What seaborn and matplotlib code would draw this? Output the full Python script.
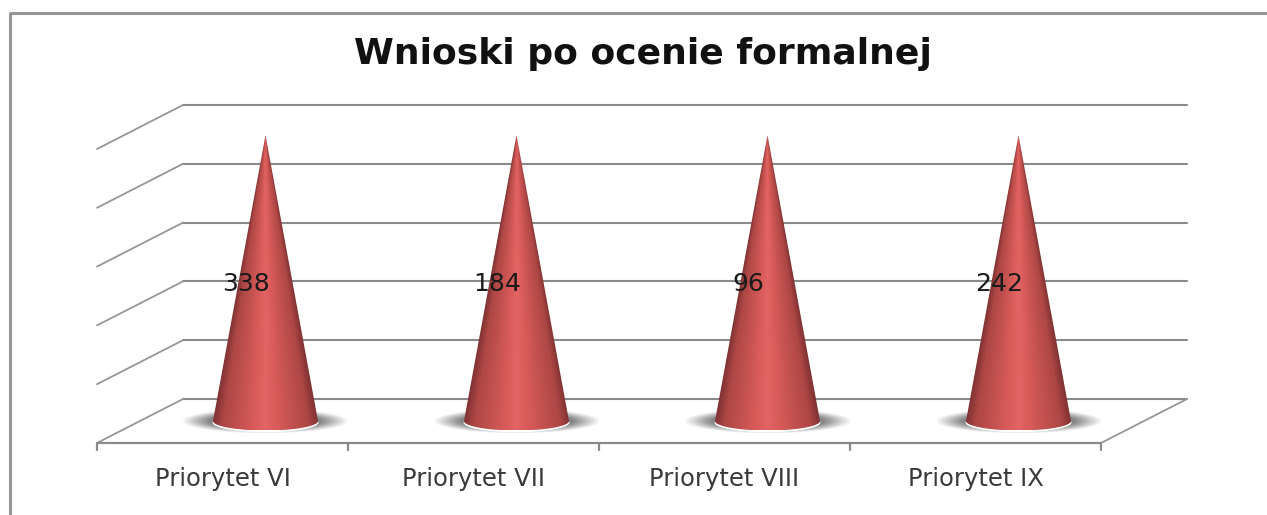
import numpy as np
import matplotlib
matplotlib.use('Agg')
import matplotlib.pyplot as plt
from matplotlib.colors import LinearSegmentedColormap
from matplotlib.patches import Polygon
import seaborn as sns

categories = ['Priorytet VI', 'Priorytet VII', 'Priorytet VIII', 'Priorytet IX']
counts = [338, 184, 96, 242]
# all cones reach the same height in the picture, on a wall with 5 steps
heights = [4.86, 4.86, 4.86, 4.86]
grid_levels = [0, 1, 2, 3, 4, 5]

sns.set_style('white')
plt.rcParams['font.family'] = 'DejaVu Sans'

W, H = 1267, 515
X_UNIT, Y_UNIT = 251.0, 58.8      # pixels per category / per wall step
X0, Y0 = 265.5, 421.0             # pixel of category 0, value 0
DX, DY = 43 / X_UNIT, 22 / Y_UNIT # half depth of the floor
GRAY = '#8a8a8a'

fig = plt.figure(figsize=(W / 100, H / 100), dpi=100)
ax = fig.add_axes([0, 0, 1, 1])

sns.barplot(x=categories, y=heights, width=105 / X_UNIT, color='white', ax=ax, zorder=1)

xlim = (-X0 / X_UNIT, (W - X0) / X_UNIT)
ylim = ((Y0 - H) / Y_UNIT, Y0 / Y_UNIT)

# walls and floor
n = len(categories)
for lev in grid_levels:
    ax.plot([-0.5 + DX, n - 0.5 + DX], [lev + DY, lev + DY], color=GRAY, lw=1.5, zorder=0)
    ax.plot([-0.5 - DX, -0.5 + DX], [lev - DY, lev + DY], color='#969696', lw=1.3, zorder=0)
ax.plot([-0.5 - DX, n - 0.5 - DX], [-DY, -DY], color=GRAY, lw=1.6, zorder=0)
ax.plot([n - 0.5 - DX, n - 0.5 + DX], [-DY, DY], color='#969696', lw=1.3, zorder=0)
for i in range(n + 1):
    ax.plot([i - 0.5 - DX, i - 0.5 - DX], [-DY, -DY - 0.12], color=GRAY, lw=1.6, zorder=0)

cone_cmap = LinearSegmentedColormap.from_list(
    'cone', [(0, '#e26464'), (0.2, '#d95c5a'), (0.5, '#c2514f'), (0.8, '#ae4745'), (1, '#7f3232')])
ell = 9.5 / Y_UNIT  # semi-minor of the base ellipse

for bar, count, name in zip(ax.patches, counts, categories):
    bar.set_alpha(0)
    xc = bar.get_x() + bar.get_width() / 2
    hw = bar.get_width() / 2
    top = bar.get_height()

    # soft floor shadow
    sx = np.linspace(xc - 82 / X_UNIT, xc + 82 / X_UNIT, 200)
    sy = np.linspace(-0.27, 0.27, 60)
    gx, gy = np.meshgrid(sx, sy)
    r = np.sqrt(((gx - xc) / (80 / X_UNIT)) ** 2 + (gy / 0.2) ** 2)
    rgba = np.zeros(r.shape + (4,))
    rgba[..., :3] = 0.5
    rgba[..., 3] = np.clip((1.05 - r) / 0.35, 0, 1) * 0.95
    ax.imshow(rgba, extent=(sx[0], sx[-1], sy[0], sy[-1]), origin='lower',
              aspect='auto', zorder=2, interpolation='bilinear')

    # cone outline from the bar geometry
    t = np.linspace(np.pi, 2 * np.pi, 60)
    base_x = xc + hw * np.cos(t)
    base_y = ell * np.sin(t)
    verts = np.column_stack([np.r_[xc, base_x], np.r_[top, base_y]])

    ax.add_patch(Polygon(np.column_stack([base_x, base_y - 0.02]), closed=True,
                         facecolor='white', edgecolor='white', lw=0.8, zorder=2.5))

    # shading follows the cone: it narrows towards the tip
    ix = np.linspace(xc - hw, xc + hw, 300)
    iy = np.linspace(-ell, top, 400)
    gx, gy = np.meshgrid(ix, iy)
    half = hw * np.clip((top - gy) / top, 0.002, None)
    u = np.clip(np.abs(gx - xc) / half, 0, 1)
    im = ax.imshow(u, extent=(ix[0], ix[-1], iy[0], iy[-1]), origin='lower',
                   cmap=cone_cmap, vmin=0, vmax=1, aspect='auto', zorder=3,
                   interpolation='bilinear')
    clip = Polygon(verts, closed=True, transform=ax.transData, facecolor='none', edgecolor='none')
    ax.add_patch(clip)
    im.set_clip_path(clip)

    ax.annotate(str(count), (xc, top / 2), xytext=(-19, -6), textcoords='offset pixels',
                ha='center', va='center', fontsize=18, color='#1a1a1a', zorder=5)
    ax.text(xc - DX, -0.99, name, ha='center', va='center', fontsize=17.5, color='#3a3a3a')

ax.text(643 / W, 1 - 54 / H, 'Wnioski po ocenie formalnej', transform=ax.transAxes,
        ha='center', va='center', fontsize=26, fontweight='bold', color='#111111')

# chart frame, left and top only
ax.plot([10 / W, 10 / W, 1], [0, 1 - 13 / H, 1 - 13 / H], transform=ax.transAxes,
        color='#969696', lw=2.2, zorder=6, clip_on=False)

ax.set_xlim(xlim)
ax.set_ylim(ylim)
ax.axis('off')

fig.savefig('out.png', dpi=100)
